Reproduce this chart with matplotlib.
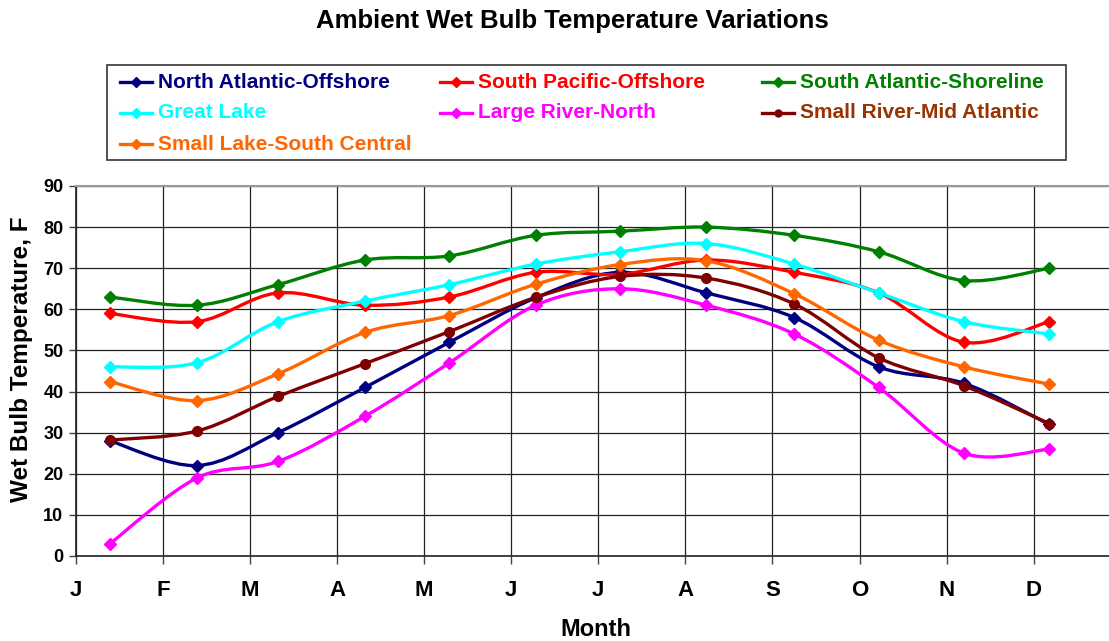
import matplotlib
matplotlib.use("Agg")
import matplotlib.pyplot as plt
from matplotlib.path import Path
from matplotlib.patches import PathPatch, Rectangle
from matplotlib.lines import Line2D

plt.rcParams["font.family"] = ["Liberation Sans", "DejaVu Sans"]
plt.rcParams["font.weight"] = "bold"

# Month ticks (category gridlines) and sample positions in month units
months = ["J", "F", "M", "A", "M", "J", "J", "A", "S", "O", "N", "D"]
x_pos = [0.39, 1.39, 2.32, 3.32, 4.29, 5.28, 6.25, 7.24, 8.25, 9.22, 10.20, 11.18]

north_atlantic = [28, 22, 30, 41, 52, 62.8, 69, 64, 58, 46, 42, 32]
south_pacific = [59, 57, 64, 61, 63, 69, 68.5, 72, 69, 64, 52, 57]
south_atlantic = [63, 61, 66, 72, 73, 78, 79, 80, 78, 74, 67, 70]
great_lake = [46, 47, 57, 62, 66, 71, 74, 76, 71, 64, 57, 54]
large_river = [3, 19, 23, 34, 47, 61, 65, 61, 54, 41, 25, 26]
small_river = [28.2, 30.4, 38.8, 46.8, 54.6, 62.9, 68, 67.6, 61.3, 48.2, 41.4, 32.2]
small_lake = [42.4, 37.8, 44.3, 54.4, 58.5, 66.1, 70.9, 71.8, 63.8, 52.5, 46, 41.8]

series = [
    ("North Atlantic-Offshore", north_atlantic, "#000080", "#000080", "D"),
    ("South Pacific-Offshore", south_pacific, "#FF0000", "#FF0000", "D"),
    ("South Atlantic-Shoreline", south_atlantic, "#008000", "#008000", "D"),
    ("Great Lake", great_lake, "#00FFFF", "#00FFFF", "D"),
    ("Large River-North", large_river, "#FF00FF", "#FF00FF", "D"),
    ("Small River-Mid Atlantic", small_river, "#800000", "#993300", "o"),
    ("Small Lake-South Central", small_lake, "#FF6600", "#FF6600", "D"),
]

W, H = 1109, 641


def fx(px):
    return px / W


def fy(py):
    return 1 - py / H


def smooth_path(xs, ys):
    # Excel-style smoothed line: cubic Bezier segments through every point
    pts = list(zip(xs, ys))
    verts = [pts[0]]
    codes = [Path.MOVETO]
    n = len(pts)
    for i in range(n - 1):
        p0 = pts[i - 1] if i > 0 else pts[i]
        p1 = pts[i]
        p2 = pts[i + 1]
        p3 = pts[i + 2] if i + 2 < n else pts[i + 1]
        c1 = (p1[0] + (p2[0] - p0[0]) / 6, p1[1] + (p2[1] - p0[1]) / 6)
        c2 = (p2[0] - (p3[0] - p1[0]) / 6, p2[1] - (p3[1] - p1[1]) / 6)
        verts += [c1, c2, p2]
        codes += [Path.CURVE4] * 3
    return Path(verts, codes)


fig = plt.figure(figsize=(W / 100, H / 100), dpi=100)
unit = 87.06
ax = fig.add_axes([fx(76), fy(556), 12 * unit / W, 370 / H])
ax.set_xlim(0, 12)
ax.set_ylim(0, 90)

for name, vals, color, tcolor, mk in series:
    ax.add_patch(PathPatch(smooth_path(x_pos, vals), fill=False,
                           edgecolor=color, lw=2.4, zorder=3, capstyle="round"))
    ms = 7 if mk == "o" else 6.5
    ax.plot(x_pos, vals, linestyle="none", marker=mk, color=color,
            markersize=ms, zorder=4)

ax.set_xticks(range(12))
ax.set_xticklabels(months, fontsize=16, fontweight="bold")
ax.set_yticks(range(0, 91, 10))
ax.set_yticklabels([str(v) for v in range(0, 91, 10)], fontsize=13, fontweight="bold")
ax.tick_params(axis="x", length=6, width=1, pad=11, color="#444444")
ax.tick_params(axis="y", length=5, width=1, pad=4, color="#444444")
ax.grid(True, color="#222222", lw=0.9)
ax.set_axisbelow(True)
for s in ["left", "bottom"]:
    ax.spines[s].set_color("#222222")
    ax.spines[s].set_linewidth(1.2)
ax.spines["top"].set_color("#999999")
ax.spines["top"].set_linewidth(1.5)
ax.spines["right"].set_visible(False)

fig.text(fx(572), fy(21), "Ambient Wet Bulb Temperature Variations",
         ha="center", va="center", fontsize=18.5, fontweight="bold")
fig.text(fx(22), fy(359), "Wet Bulb Temperature, F", rotation=90,
         ha="center", va="center", fontsize=17.5, fontweight="bold")
fig.text(fx(596), fy(630), "Month", ha="center", va="center",
         fontsize=17, fontweight="bold")

# Legend drawn by hand to keep Excel's fixed column layout
fig.add_artist(Rectangle((fx(107), fy(160)), (1066 - 107) / W, (160 - 65) / H,
                         transform=fig.transFigure, fill=False,
                         edgecolor="#333333", lw=1.2))
col_x = [120, 440, 762]
row_y = [82, 113, 144]
for k, (name, vals, color, tcolor, mk) in enumerate(series):
    cx = col_x[k % 3]
    ry = row_y[k // 3]
    fig.add_artist(Line2D([fx(cx), fx(cx + 32)], [fy(ry), fy(ry)],
                          transform=fig.transFigure, color=color, lw=2.4))
    fig.add_artist(Line2D([fx(cx + 16)], [fy(ry)], transform=fig.transFigure,
                          color=color, marker=mk, markersize=5))
    fig.text(fx(cx + 38), fy(ry), name, color=tcolor, ha="left", va="center",
             fontsize=15, fontweight="bold")

fig.savefig("out.png", dpi=100)
